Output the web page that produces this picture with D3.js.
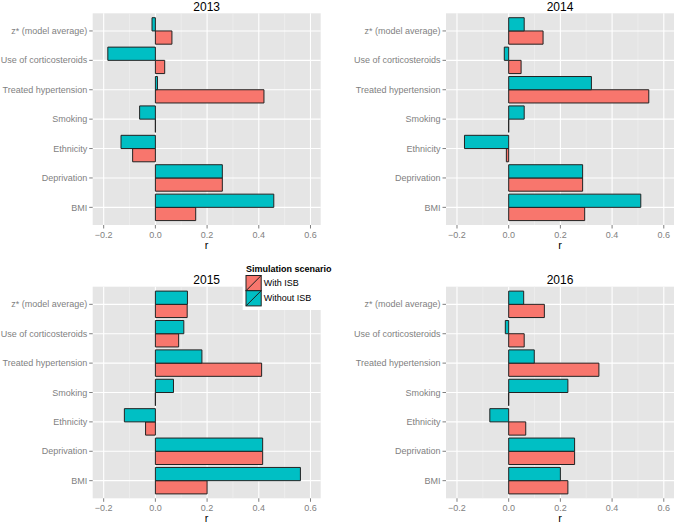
<!DOCTYPE html>
<html>
<head>
<meta charset="utf-8">
<script src="https://cdn.jsdelivr.net/npm/d3@7"></script>
<style>
  body { margin: 0; background: #fff; }
  svg { display: block; font-family: "Liberation Sans", Arial, sans-serif; }
</style>
</head>
<body>
<svg id="chart" width="675" height="524"></svg>
<script>
// ---- data ----
const categories = ["z* (model average)", "Use of corticosteroids", "Treated hypertension",
                    "Smoking", "Ethnicity", "Deprivation", "BMI"];
const series = ["With ISB", "Without ISB"];
const years = ["2013", "2014", "2015", "2016"];
const xTicks = [-0.2, 0.0, 0.2, 0.4, 0.6];
const xMinorTicks = [-0.1, 0.1, 0.3, 0.5];

// values in category order above
const withISB2013    = [0.064, 0.036, 0.420, 0.000, -0.088, 0.259, 0.156];
const withoutISB2013 = [-0.013, -0.184, 0.008, -0.061, -0.133, 0.259, 0.458];
const withISB2014    = [0.133, 0.048, 0.542, 0.000, -0.009, 0.286, 0.294];
const withoutISB2014 = [0.060, -0.017, 0.320, 0.060, -0.171, 0.286, 0.511];
const withISB2015    = [0.123, 0.090, 0.411, 0.000, -0.038, 0.415, 0.200];
const withoutISB2015 = [0.124, 0.110, 0.180, 0.070, -0.120, 0.415, 0.561];
const withISB2016    = [0.138, 0.060, 0.349, 0.000, 0.066, 0.255, 0.229];
const withoutISB2016 = [0.058, -0.013, 0.099, 0.229, -0.073, 0.255, 0.200];

const panelData = {
  "2013": {"With ISB": withISB2013, "Without ISB": withoutISB2013},
  "2014": {"With ISB": withISB2014, "Without ISB": withoutISB2014},
  "2015": {"With ISB": withISB2015, "Without ISB": withoutISB2015},
  "2016": {"With ISB": withISB2016, "Without ISB": withoutISB2016}
};

const colors = {"With ISB": "#F8766D", "Without ISB": "#00BFC4"};

// ---- layout ----
const svg = d3.select("#chart");
const panels = [
  {year: "2013", x0: 92.7, x1: 320.7, y0: 13.3, y1: 225},
  {year: "2014", x0: 446, x1: 674, y0: 13.3, y1: 225},
  {year: "2015", x0: 92.7, x1: 320.7, y0: 286.7, y1: 498.3},
  {year: "2016", x0: 446, x1: 674, y0: 286.7, y1: 498.3}
];
const xDomain = [-0.2425, 0.6395];

panels.forEach(p => {
  const g = svg.append("g");
  const x = d3.scaleLinear().domain(xDomain).range([p.x0, p.x1]);
  const y = d3.scalePoint().domain(categories).range([p.y0, p.y1]).padding(0.6);
  const step = y.step();
  const sub = d3.scaleBand().domain(["Without ISB", "With ISB"])
    .range([-0.45 * step, 0.45 * step]);

  // background
  g.append("rect").attr("x", p.x0).attr("y", p.y0)
    .attr("width", p.x1 - p.x0).attr("height", p.y1 - p.y0).attr("fill", "#E5E5E5");
  // minor grid
  g.selectAll(".minor").data(xMinorTicks).enter().append("line")
    .attr("x1", d => x(d)).attr("x2", d => x(d)).attr("y1", p.y0).attr("y2", p.y1)
    .attr("stroke", "#F2F2F2").attr("stroke-width", 0.6);
  // major grid
  g.selectAll(".majv").data(xTicks).enter().append("line")
    .attr("x1", d => x(d)).attr("x2", d => x(d)).attr("y1", p.y0).attr("y2", p.y1)
    .attr("stroke", "#fff").attr("stroke-width", 1.1);
  g.selectAll(".majh").data(categories).enter().append("line")
    .attr("y1", d => y(d)).attr("y2", d => y(d)).attr("x1", p.x0).attr("x2", p.x1)
    .attr("stroke", "#fff").attr("stroke-width", 1.1);

  // bars
  series.forEach(s => {
    const vals = panelData[p.year][s];
    g.selectAll(null).data(categories.map((c, i) => ({c, v: vals[i]}))).enter()
      .append("path")
      .attr("d", d => {
        const xa = x(Math.min(0, d.v)), xb = x(Math.max(0, d.v));
        const ya = y(d.c) + sub(s), yb = ya + sub.bandwidth();
        return `M${xa},${ya}H${xb}V${yb}H${xa}Z`;
      })
      .attr("fill", colors[s]).attr("stroke", "#222").attr("stroke-width", 1);
  });

  // y axis ticks + labels
  const ya = g.append("g");
  categories.forEach(c => {
    ya.append("line").attr("x1", p.x0 - 3.5).attr("x2", p.x0).attr("y1", y(c)).attr("y2", y(c))
      .attr("stroke", "#7F7F7F").attr("stroke-width", 1);
    ya.append("text").attr("x", p.x0 - 5.5).attr("y", y(c)).attr("dy", "0.35em")
      .attr("text-anchor", "end").attr("font-size", 9).attr("fill", "#7F7F7F").text(c);
  });
  // x axis ticks + labels
  xTicks.forEach(t => {
    g.append("line").attr("x1", x(t)).attr("x2", x(t)).attr("y1", p.y1).attr("y2", p.y1 + 3.5)
      .attr("stroke", "#7F7F7F").attr("stroke-width", 1);
    g.append("text").attr("x", x(t)).attr("y", p.y1 + 12.8).attr("text-anchor", "middle")
      .attr("font-size", 9).attr("fill", "#7F7F7F").text(d3.format(".1f")(t).replace("-", "\u2212"));
  });
  // axis title
  g.append("text").attr("x", (p.x0 + p.x1) / 2).attr("y", p.y1 + 23.5)
    .attr("text-anchor", "middle").attr("font-size", 11).attr("fill", "#000").text("r");
  // panel title
  g.append("text").attr("x", (p.x0 + p.x1) / 2).attr("y", p.y0 - 2.6)
    .attr("text-anchor", "middle").attr("font-size", 12).attr("fill", "#000").text(p.year);
});

// ---- legend ----
const lg = svg.append("g");
lg.append("rect").attr("x", 242.7).attr("y", 262).attr("width", 103).attr("height", 48).attr("fill", "#fff");
lg.append("text").attr("x", 246).attr("y", 272.3).attr("font-size", 9).attr("font-weight", "bold")
  .attr("fill", "#000").text("Simulation scenario");
series.forEach((s, i) => {
  const kx = 246, ky = 275.5 + i * 15.2, ks = 15.2;
  lg.append("rect").attr("x", kx).attr("y", ky).attr("width", ks).attr("height", ks)
    .attr("fill", colors[s]).attr("stroke", "#222").attr("stroke-width", 1);
  lg.append("line").attr("x1", kx).attr("y1", ky + ks).attr("x2", kx + ks).attr("y2", ky)
    .attr("stroke", "#222").attr("stroke-width", 1);
  lg.append("text").attr("x", kx + ks + 2.5).attr("y", ky + ks / 2).attr("dy", "0.35em")
    .attr("font-size", 9).attr("fill", "#000").text(s);
});
</script>
</body>
</html>
